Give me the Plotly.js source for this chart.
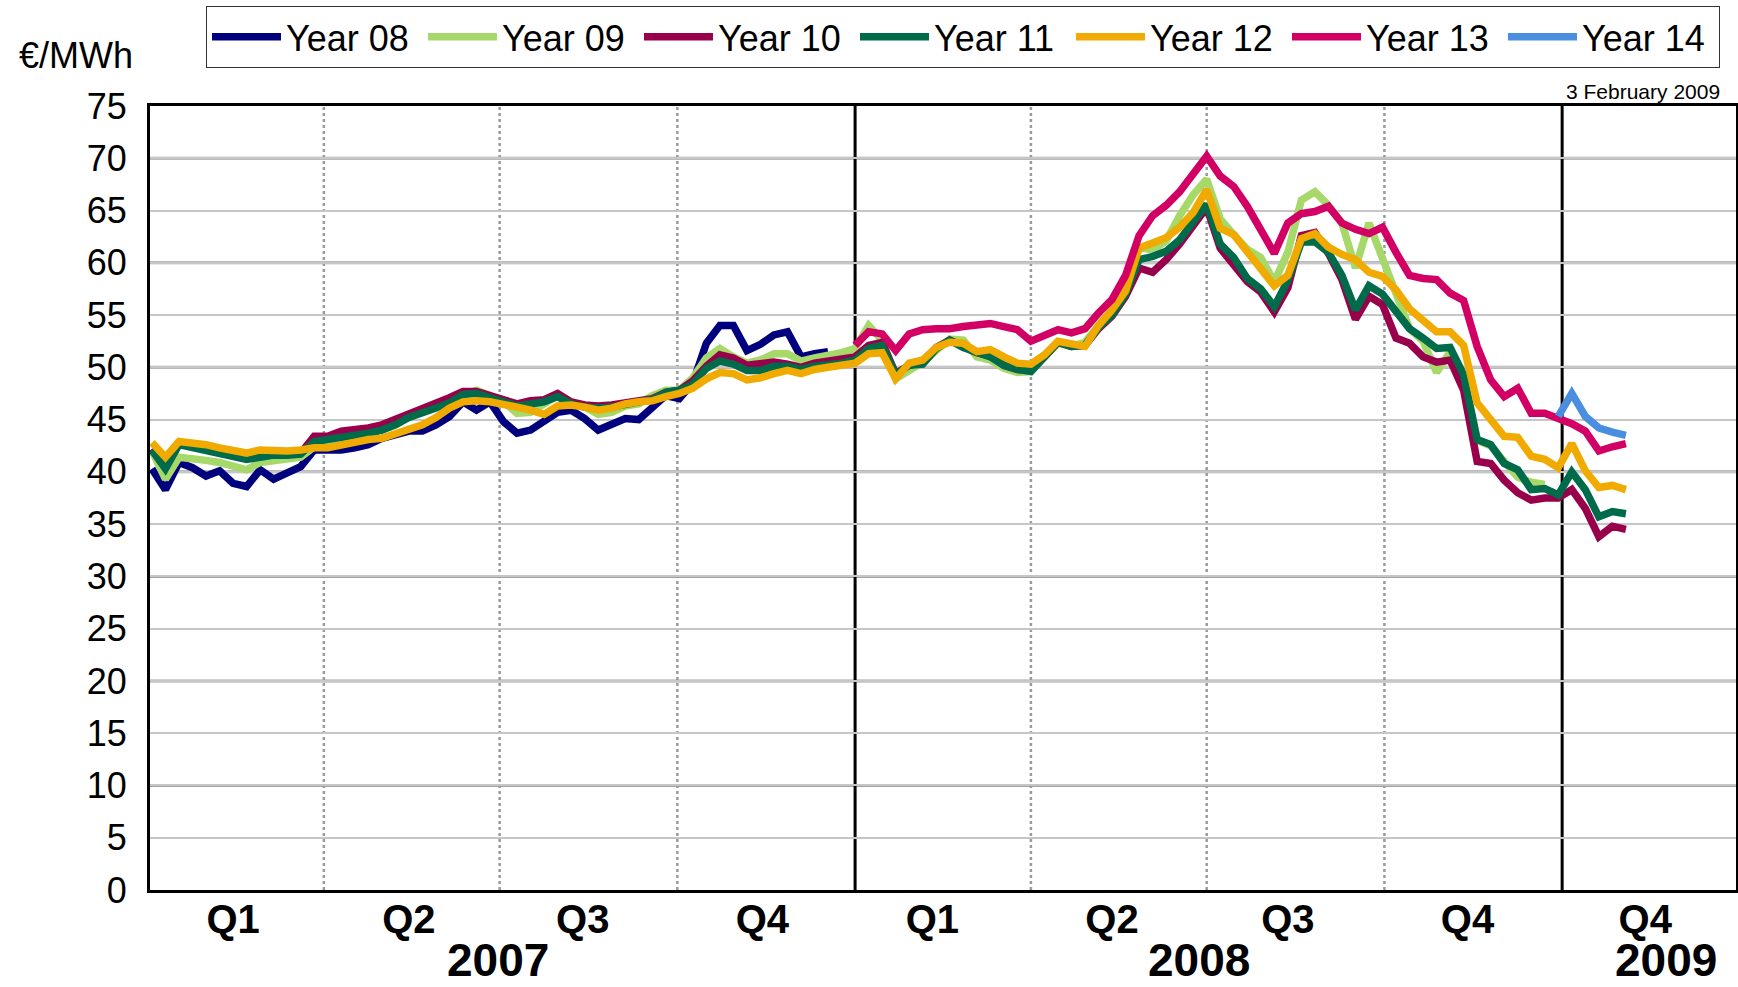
<!DOCTYPE html>
<html>
<head>
<meta charset="utf-8">
<script src="https://cdn.plot.ly/plotly-3.0.1.min.js"></script>
<style>
html,body{margin:0;padding:0;background:#ffffff;}
#chart{width:1738px;height:987px;}
</style>
</head>
<body>
<div id="chart"></div>
<script>
// Weekly observation dates (Tuesdays), 2 Jan 2007 .. 3 Feb 2009
const dates = [
'2007-01-02','2007-01-09','2007-01-16','2007-01-23','2007-01-30','2007-02-06','2007-02-13','2007-02-20','2007-02-27',
'2007-03-06','2007-03-13','2007-03-20','2007-03-27','2007-04-03','2007-04-10','2007-04-17','2007-04-24',
'2007-05-01','2007-05-08','2007-05-15','2007-05-22','2007-05-29','2007-06-05','2007-06-12','2007-06-19','2007-06-26',
'2007-07-03','2007-07-10','2007-07-17','2007-07-24','2007-07-31','2007-08-07','2007-08-14','2007-08-21','2007-08-28',
'2007-09-04','2007-09-11','2007-09-18','2007-09-25','2007-10-02','2007-10-09','2007-10-16','2007-10-23','2007-10-30',
'2007-11-06','2007-11-13','2007-11-20','2007-11-27','2007-12-04','2007-12-11','2007-12-18','2007-12-25',
'2008-01-01','2008-01-08','2008-01-15','2008-01-22','2008-01-29','2008-02-05','2008-02-12','2008-02-19','2008-02-26',
'2008-03-04','2008-03-11','2008-03-18','2008-03-25','2008-04-01','2008-04-08','2008-04-15','2008-04-22','2008-04-29',
'2008-05-06','2008-05-13','2008-05-20','2008-05-27','2008-06-03','2008-06-10','2008-06-17','2008-06-24',
'2008-07-01','2008-07-08','2008-07-15','2008-07-22','2008-07-29','2008-08-05','2008-08-12','2008-08-19','2008-08-26',
'2008-09-02','2008-09-09','2008-09-16','2008-09-23','2008-09-30','2008-10-07','2008-10-14','2008-10-21','2008-10-28',
'2008-11-04','2008-11-11','2008-11-18','2008-11-25','2008-12-02','2008-12-09','2008-12-16','2008-12-23','2008-12-30',
'2009-01-06','2009-01-13','2009-01-20','2009-01-27','2009-02-03'
];

// €/MWh, weekly readings
const year08 = [40.3,38.3,40.9,40.4,39.6,40.1,38.9,38.6,40.2,39.3,39.9,40.5,42.1,42.1,42.1,42.3,42.6,43.2,43.6,43.9,43.9,44.5,45.3,
46.7,45.9,46.7,44.8,43.7,44.0,44.9,45.7,45.9,45.1,44.0,44.5,45.1,45.0,46.2,47.3,47.0,48.5,52.3,54.0,54.0,51.6,52.2,53.1,53.4,51.0,51.3,51.5];

const year09 = [42.0,39.3,41.4,41.3,41.1,40.9,40.5,40.2,40.9,41.1,41.2,41.4,
42.4,42.9,43.1,43.2,43.6,44.0,44.5,45.3,45.8,46.3,46.8,
47.4,47.8,47.3,46.7,45.6,45.7,46.5,47.3,46.7,46.2,45.5,45.7,46.3,46.5,47.3,47.8,47.8,49.0,50.9,51.8,51.0,50.4,50.7,51.3,
51.3,50.6,50.9,51.1,51.4,51.8,54.0,52.6,48.9,49.7,50.5,51.6,52.7,52.6,51.0,50.7,49.9,49.5,49.6,51.0,
52.3,52.0,52.4,54.0,55.5,57.8,61.5,61.2,62.1,64.5,66.5,68.0,
64.2,62.7,61.3,60.5,58.2,61.0,66.0,66.8,65.5,63.8,59.5,63.8,60.5,57.0,
53.7,52.5,49.5,51.5,49.0,43.0,42.5,41.0,39.5,39.0,38.8];

const year10 = [42.2,40.5,42.7,42.4,42.1,41.9,41.6,41.3,41.5,41.7,41.7,41.8,
43.4,43.4,43.9,44.0,44.2,44.5,45.0,45.5,46.0,46.6,47.1,
47.7,47.7,47.3,46.9,46.5,46.8,46.9,47.5,46.7,46.4,46.3,46.4,46.6,46.7,47.0,47.6,47.8,48.7,50.1,51.2,50.9,50.2,50.3,50.5,
50.3,50.0,50.4,50.6,50.8,51.0,52.1,52.4,49.4,50.2,50.5,51.9,52.6,52.0,51.4,51.1,50.2,49.8,49.7,51.0,
52.4,52.0,52.1,53.7,54.9,56.8,59.5,59.1,60.3,61.8,63.7,65.3,
61.4,59.8,58.2,57.2,55.3,57.6,62.6,62.9,60.9,58.4,54.6,56.8,56.0,52.8,
52.3,51.0,50.5,50.7,47.8,41.0,40.8,39.2,38.0,37.3,37.5,37.5,38.3,36.5,33.8,34.8,34.5];

const year11 = [42.1,40.3,42.6,42.3,42.0,41.8,41.5,41.2,41.4,41.6,41.6,41.7,
42.9,43.1,43.2,43.4,43.7,44.0,44.5,45.2,45.6,46.1,46.6,
47.4,47.5,47.1,46.6,46.3,46.5,46.7,47.2,46.5,46.2,46.1,46.2,46.5,46.7,46.9,47.6,47.8,48.4,49.9,50.6,50.3,49.7,49.7,50.1,
50.1,49.8,50.1,50.2,50.4,50.7,51.8,52.1,49.3,50.2,50.3,51.8,52.6,51.9,51.4,51.0,50.2,49.8,49.6,51.0,
52.4,52.0,52.1,53.8,55.0,57.0,60.3,60.6,61.1,62.2,64.0,65.6,
61.8,60.5,58.5,57.5,55.8,58.3,62.0,62.0,61.0,58.8,55.5,57.8,57.0,55.2,
53.7,52.8,51.8,51.9,49.3,43.1,42.6,40.8,40.2,38.3,38.4,37.8,40.0,38.3,35.7,36.2,36.0];

const year12 = [42.8,41.4,42.9,42.8,42.6,42.3,42.0,41.8,42.1,42.0,42.0,42.1,
42.3,42.3,42.6,42.9,43.1,43.2,43.6,44.0,44.5,45.2,46.1,
46.7,46.8,46.7,46.5,46.2,45.9,45.5,46.3,46.4,46.2,45.9,46.1,46.5,46.7,46.8,47.2,47.5,48.0,48.9,49.5,49.4,48.8,49.0,49.4,
49.7,49.4,49.8,50.0,50.2,50.4,51.3,51.4,48.9,50.4,50.7,51.9,52.4,52.3,51.5,51.7,51.0,50.4,50.3,51.2,
52.5,52.3,52.0,54.0,55.5,57.3,61.4,61.9,62.4,63.4,64.8,67.0,
63.3,62.7,61.0,59.5,57.8,58.8,62.3,62.8,61.5,60.8,60.3,59.1,58.7,57.4,
55.6,54.5,53.4,53.4,52.1,46.6,45.0,43.4,43.3,41.5,41.2,40.4,42.7,40.1,38.5,38.7,38.3];

const year13 = [52.1,53.4,53.2,51.6,53.2,53.6,53.7,53.7,53.9,54.0,
54.2,53.9,53.6,52.5,53.0,53.6,53.3,53.7,55.2,56.5,
58.8,62.6,64.5,65.5,66.8,68.5,70.2,68.3,67.3,65.4,
63.2,60.9,63.8,64.7,64.9,65.4,63.8,63.2,62.8,63.4,
61.0,58.8,58.5,58.4,57.1,56.4,52.0,48.8,47.2,48.0,
45.6,45.6,45.1,44.6,43.9,42.0,42.4,42.7];

const year14 = [45.3,47.5,45.3,44.2,43.8,43.5];

const seriesNames  = ['Year 08','Year 09','Year 10','Year 11','Year 12','Year 13','Year 14'];
const seriesValues = [year08, year09, year10, year11, year12, year13, year14];
const seriesStartIndex = [0, 0, 0, 0, 0, 52, 104];
const seriesColors = ['#00007f','#a6d96a','#99004c','#006b4a','#f0aa00','#d20064','#4a8fdf'];

const quarterTickDates  = ['2007-02-13','2007-05-15','2007-08-13','2007-11-14','2008-02-10','2008-05-13','2008-08-12','2008-11-13','2009-02-13'];
const quarterTickLabels = ['Q1','Q2','Q3','Q4','Q1','Q2','Q3','Q4','Q4'];
const yearLabelDates = ['2007-06-30','2008-06-27','2009-02-24'];
const yearLabels     = ['2007','2008','2009'];
const quarterBoundaries = ['2007-04-01','2007-07-01','2007-10-01','2008-04-01','2008-07-01','2008-10-01'];
const yearBoundaries    = ['2008-01-01','2009-01-01'];
const majorGridValues   = [10,20,30,40,50,60,70];

const FONT = 'Arial, "Liberation Sans", sans-serif';

const traces = seriesValues.map((vals, i) => ({
  type: 'scatter',
  mode: 'lines',
  name: seriesNames[i],
  x: dates.slice(seriesStartIndex[i], seriesStartIndex[i] + vals.length),
  y: vals,
  line: {color: seriesColors[i], width: 7.5},
  hoverinfo: 'x+y+name'
}));

const shapes = [];
majorGridValues.forEach(v => shapes.push({
  type: 'line', xref: 'paper', x0: 0, x1: 1, yref: 'y', y0: v, y1: v,
  line: {color: '#a3a3a3', width: 3}, layer: 'below'
}));
quarterBoundaries.forEach(d => shapes.push({
  type: 'line', xref: 'x', x0: d, x1: d, yref: 'paper', y0: 0, y1: 1,
  line: {color: '#9a9a9a', width: 2.5, dash: 'dot'}, layer: 'below'
}));
yearBoundaries.forEach(d => shapes.push({
  type: 'line', xref: 'x', x0: d, x1: d, yref: 'paper', y0: 0, y1: 1,
  line: {color: '#000000', width: 3}, layer: 'below'
}));

const annotations = [
  {text: '€/MWh', xref: 'paper', yref: 'paper', x: -0.0839, y: 1.065, xanchor: 'left', yanchor: 'middle',
   showarrow: false, font: {family: FONT, size: 36, color: '#000'}},
  {text: '3 February 2009', xref: 'paper', yref: 'paper', x: 0.9912, y: 1.0179, xanchor: 'right', yanchor: 'middle',
   showarrow: false, font: {family: FONT, size: 21, color: '#000'}}
];
yearLabels.forEach((t, i) => annotations.push({
  text: t, xref: 'x', yref: 'paper', x: yearLabelDates[i], y: -0.1237, xanchor: 'center', yanchor: 'bottom',
  borderpad: 0, showarrow: false, font: {family: FONT, size: 46, color: '#000', weight: 'bold'}
}));

const layout = {
  width: 1738, height: 987,
  margin: {l: 150, r: 2, t: 106, b: 97, pad: 0},
  paper_bgcolor: '#ffffff', plot_bgcolor: '#ffffff',
  font: {family: FONT, color: '#000'},
  showlegend: true,
  legend: {
    orientation: 'h', x: 0.0353, y: 1.1276, xanchor: 'left', yanchor: 'top',
    bordercolor: '#333', borderwidth: 1, bgcolor: '#ffffff',
    font: {family: FONT, size: 36, color: '#000'},
    itemwidth: 69,
    entrywidth: 132, entrywidthmode: 'pixels'
  },
  xaxis: {
    type: 'date', range: ['2007-01-01', '2009-04-01'],
    tickmode: 'array', tickvals: quarterTickDates, ticktext: quarterTickLabels,
    tickfont: {family: FONT, size: 40, color: '#000', weight: 'bold'},
    ticks: '', ticklabelstandoff: -8,
    showgrid: false, zeroline: false,
    showline: true, linecolor: '#000', linewidth: 3, mirror: true,
    fixedrange: true
  },
  yaxis: {
    range: [0, 75], tick0: 0, dtick: 5,
    tickfont: {family: FONT, size: 36, color: '#000'},
    ticks: '', ticklabelstandoff: 13,
    showgrid: true, gridcolor: '#c6c6c6', gridwidth: 2,
    zeroline: false,
    showline: true, linecolor: '#000', linewidth: 3, mirror: true,
    fixedrange: true
  },
  shapes: shapes,
  annotations: annotations
};

Plotly.newPlot('chart', traces, layout, {displayModeBar: false});
</script>
</body>
</html>
